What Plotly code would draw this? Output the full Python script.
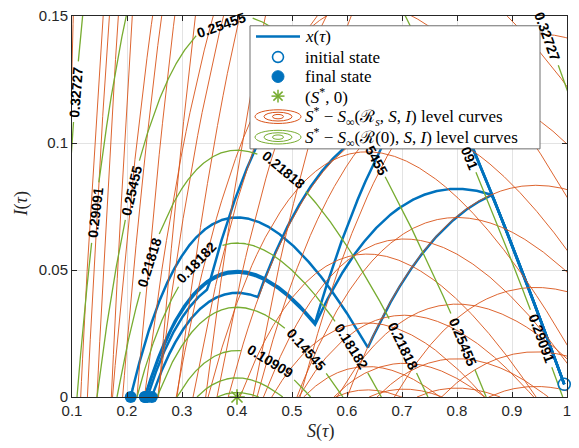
import numpy as np
import plotly.graph_objects as go

# ---- model parameters -------------------------------------------------------
R0 = 2.5                      # basic reproduction number R(0)
S_STAR = 1.0 / R0             # herd-immunity threshold S*
S_INIT, I_INIT = 0.995, 0.005 # initial state

# intervention trajectories: R during the intervention, and the values of S
# at which the intervention starts and ends
traj_Rs = [1.06, 1.06, 1.25, 1.42, 1.57]
traj_S_on = [0.864, 0.763, 0.864, 0.830, 0.771]
traj_S_off = [0.638, 0.542, 0.542, 0.438, 0.347]

# level-curve families of S* - S_inf(R_s, S, I): one list of levels per R_s
family_Rs = [1.06, 1.25, 1.42, 1.57]
family_levels = [
    [-0.45763, -0.37187, -0.28611, -0.20034, -0.11458, -0.02882, 0.05695,
     0.14271, 0.22847, 0.31424],
    [-0.32727, -0.25455, -0.18182, -0.10909, -0.03636, 0.03636, 0.10909,
     0.18182, 0.25455, 0.32727],
    [-0.24021, -0.17619, -0.11217, -0.04815, 0.01587, 0.07989, 0.14392,
     0.20794, 0.27196, 0.33598],
    [-0.17904, -0.12114, -0.06323, -0.00533, 0.05257, 0.11048, 0.16838,
     0.22629, 0.28419, 0.34210],
]

# levels of S* - S_inf(R(0), S, I)
green_levels = [0.03636, 0.07273, 0.10909, 0.14545, 0.18182, 0.21818,
                0.25455, 0.29091, 0.32727, 0.36364]

# inline labels on the R(0) level curves: (level, S position, text, y shift px)
green_labels = [
    (0.10909, 0.460, "0.10909", 0),
    (0.14545, 0.527, "0.14545", 0),
    (0.18182, 0.327, "0.18182", 0),
    (0.18182, 0.609, "0.18182", 0),
    (0.21818, 0.240, "0.21818", 0),
    (0.21818, 0.485, "0.21818", 0),
    (0.21818, 0.702, "0.21818", 0),
    (0.25455, 0.372, "0.25455", -7),
    (0.25455, 0.209, "0.25455", 0),
    (0.25455, 0.653, "5455", 0),
    (0.25455, 0.811, "0.25455", 0),
    (0.29091, 0.142, "0.29091", 0),
    (0.29091, 0.824, "091", 0),
    (0.29091, 0.953, "0.29091", 0),
    (0.32727, 0.107, "0.32727", 0),
    (0.32727, 0.965, "0.32727", 0),
]

BLUE = "#0072BD"
ORANGE = "#D95319"
GREEN = "#77AC30"
AXC = "#262626"

# ---- plot geometry (pixels) ----------------------------------------------
W, H = 579, 448
ML, MR, MT, MB = 72, 12, 7, 51
X0, X1 = 0.1, 1.0
Y0, Y1 = 0.0, 0.15
PW, PH = W - ML - MR, H - MT - MB


def to_px(S, I):
    return ML + (S - X0) / (X1 - X0) * PW, MT + (Y1 - I) / (Y1 - Y0) * PH


def paper(px, py):
    return (px - ML) / PW, (H - MB - py) / PH


# ---- SIR invariants --------------------------------------------------------
def invariant(S, I, R):
    return S + I - np.log(S) / R


def curve_I(S, C, R):
    return C - S + np.log(S) / R


def s_inf(R, C):
    lo, hi = 1e-9, 1.0 / R
    for _ in range(200):
        mid = 0.5 * (lo + hi)
        if mid - np.log(mid) / R - C > 0:
            lo = mid
        else:
            hi = mid
    return 0.5 * (lo + hi)


def level_curve(R, level, gaps=()):
    """Points of the curve S* - S_inf(R, S, I) = level inside the plot."""
    sinf = S_STAR - level
    if sinf <= 0 or sinf >= 1.0 / R:
        return [], []
    C = invariant(sinf, 0.0, R)
    t = np.linspace(0, 1, 6000)
    S = sinf + (X1 + 0.02 - sinf) * t ** 1.6
    I = curve_I(S, C, R)
    keep = (I >= -1e-4) & (I <= Y1 + 0.03)
    if gaps:
        px, py = to_px(S, I)
        for gx, gy, gr in gaps:
            keep &= (px - gx) ** 2 + (py - gy) ** 2 > gr ** 2
    xs, ys = [], []
    prev = False
    for s, i, k in zip(S, I, keep):
        if k:
            xs.append(float(s)); ys.append(float(max(i, 0.0)))
        elif prev:
            xs.append(None); ys.append(None)
        prev = k
    return xs, ys


def trajectory(Rs, s_on, s_off, n=800):
    C0 = invariant(S_INIT, I_INIT, R0)
    S1 = np.linspace(S_INIT, s_on, n)
    I1 = curve_I(S1, C0, R0)
    Cs = invariant(s_on, I1[-1], Rs)
    S2 = np.linspace(s_on, s_off, n)
    I2 = curve_I(S2, Cs, Rs)
    C3 = invariant(s_off, I2[-1], R0)
    s_end = s_inf(R0, C3)
    t = np.linspace(1, 0, 2 * n)
    S3 = s_end + (s_off - s_end) * t ** 2
    I3 = np.maximum(curve_I(S3, C3, R0), 0.0)
    return np.concatenate([S1, S2, S3]), np.concatenate([I1, I2, I3]), s_end


fig = go.Figure()

# ---- trajectories -----------------------------------------------------------
finals = []
for Rs, a, b in zip(traj_Rs, traj_S_on, traj_S_off):
    X, Y, s_end = trajectory(Rs, a, b)
    fig.add_trace(go.Scatter(x=X, y=Y, mode="lines", hoverinfo="skip",
                             line=dict(color=BLUE, width=2.5), showlegend=False))
    finals.append(s_end)

# ---- orange families -------------------------------------------------------
for R, levels in zip(family_Rs, family_levels):
    xs, ys = [], []
    for lv in levels:
        cx, cy = level_curve(R, lv)
        if cx:
            xs += cx + [None]; ys += cy + [None]
    fig.add_trace(go.Scatter(x=xs, y=ys, mode="lines", hoverinfo="skip",
                             line=dict(color=ORANGE, width=0.9), showlegend=False))

# ---- green family with inline label gaps ----------------------------------
label_geo = []
for lv, s, txt, ysh in green_labels:
    C = invariant(S_STAR - lv, 0.0, R0)
    i = curve_I(s, C, R0)
    px, py = to_px(s, i)
    slope = -1 + 1 / (R0 * s)
    ang = np.degrees(np.arctan2(-slope * PH / (Y1 - Y0), PW / (X1 - X0)))
    width = 8.0 * len(txt)
    label_geo.append((lv, s, i, px, py, ang, txt, width, ysh))

xs, ys = [], []
for lv in green_levels:
    gaps = [(g[3], g[4], g[7] / 2 + 3) for g in label_geo if g[0] == lv]
    cx, cy = level_curve(R0, lv, gaps)
    if cx:
        xs += cx + [None]; ys += cy + [None]
fig.add_trace(go.Scatter(x=xs, y=ys, mode="lines", hoverinfo="skip",
                         line=dict(color=GREEN, width=1.3), showlegend=False))

# ---- markers -----------------------------------------------------------------
fig.add_trace(go.Scatter(x=finals, y=[0.0] * len(finals), mode="markers",
                         cliponaxis=False, hoverinfo="skip", showlegend=False,
                         marker=dict(symbol="circle", size=12, color=BLUE)))
fig.add_trace(go.Scatter(x=[S_INIT], y=[I_INIT], mode="markers", cliponaxis=False,
                         hoverinfo="skip", showlegend=False,
                         marker=dict(symbol="circle-open", size=12, color=BLUE,
                                     line=dict(width=1.6, color=BLUE))))
fig.add_trace(go.Scatter(x=[S_STAR], y=[0.0], mode="markers", cliponaxis=False,
                         hoverinfo="skip", showlegend=False,
                         marker=dict(symbol="asterisk-open", size=13, color=GREEN,
                                     line=dict(width=1.6, color=GREEN))))

annotations = []
for lv, s, i, px, py, ang, txt, width, ysh in label_geo:
    annotations.append(dict(x=s, y=i, xref="x", yref="y", text=txt, showarrow=False,
                            textangle=float(ang), xanchor="center", yanchor="middle",
                            yshift=ysh,
                            font=dict(family="Liberation Sans, Arial", size=14,
                                      color="black", weight="bold")))

# ---- legend box ----------------------------------------------------------------
shapes = []
LX0, LY0, LX1, LY1 = 250, 17, 540, 143
bx0, by1 = paper(LX0, LY0)
bx1, by0 = paper(LX1, LY1)
shapes.append(dict(type="rect", xref="paper", yref="paper", x0=bx0, x1=bx1,
                   y0=by0, y1=by1, fillcolor="white", layer="above",
                   line=dict(color="#6e6e6e", width=1)))
ICX = 278
rows = [28, 49, 69, 89, 110, 131]
a0 = paper(256, rows[0]); a1 = paper(300, rows[0])
shapes.append(dict(type="line", xref="paper", yref="paper", x0=a0[0], y0=a0[1],
                   x1=a1[0], y1=a1[1], layer="above", line=dict(color=BLUE, width=2.5)))


def ellipse(cx, cy, w, h, color, lw=1.0, fill=None):
    p0 = paper(cx - w / 2, cy + h / 2)
    p1 = paper(cx + w / 2, cy - h / 2)
    d = dict(type="circle", xref="paper", yref="paper", x0=p0[0], y0=p0[1],
             x1=p1[0], y1=p1[1], layer="above", line=dict(color=color, width=lw))
    if fill:
        d["fillcolor"] = fill
    return d


shapes.append(ellipse(ICX, rows[1], 11, 11, BLUE, 1.6))
shapes.append(ellipse(ICX, rows[2], 12, 12, BLUE, 1.0, BLUE))
for dx, dy in [(0, 6.5), (6.5, 0), (4.6, 4.6), (4.6, -4.6)]:
    p0 = paper(ICX - dx, rows[3] - dy); p1 = paper(ICX + dx, rows[3] + dy)
    shapes.append(dict(type="line", xref="paper", yref="paper", x0=p0[0], y0=p0[1],
                       x1=p1[0], y1=p1[1], layer="above",
                       line=dict(color=GREEN, width=1.5)))
for color, r in [(ORANGE, rows[4]), (GREEN, rows[5])]:
    for w, h in [(46, 14), (28, 9), (11, 4.5)]:
        shapes.append(ellipse(ICX, r, w, h, color))

legend_text = [
    "<i>x</i>(<i>τ</i>)",
    "initial state",
    "final state",
    "(<i>S</i><sup>*</sup>, 0)",
    "<i>S</i><sup>*</sup> − <i>S</i><sub>∞</sub>(ℛ<sub><i>s</i></sub>, <i>S</i>, <i>I</i>) level curves",
    "<i>S</i><sup>*</sup> − <i>S</i><sub>∞</sub>(ℛ(0), <i>S</i>, <i>I</i>) level curves",
]
for txt, r in zip(legend_text, rows):
    px_, py_ = paper(303, r)
    annotations.append(dict(x=px_, y=py_, xref="paper", yref="paper", text=txt,
                            showarrow=False, xanchor="left", yanchor="middle",
                            font=dict(family="Liberation Serif, Times New Roman",
                                      size=17, color="black")))

# axis titles
tx = paper(320, 432)
annotations.append(dict(x=tx[0], y=tx[1], xref="paper", yref="paper",
                        xanchor="center", yanchor="middle",
                        text="<i>S</i>(<i>τ</i>)", showarrow=False,
                        font=dict(family="Liberation Serif", size=18, color=AXC)))
ty = paper(22, 200)
annotations.append(dict(x=ty[0], y=ty[1], xref="paper", yref="paper",
                        xanchor="center", yanchor="middle",
                        text="<i>I</i>(<i>τ</i>)", showarrow=False, textangle=-90,
                        font=dict(family="Liberation Serif", size=18, color=AXC)))

xt = [0.1, 0.2, 0.3, 0.4, 0.5, 0.6, 0.7, 0.8, 0.9, 1.0]
xt_text = ["0.1", "0.2", "0.3", "0.4", "0.5", "0.6", "0.7", "0.8", "0.9", "1"]
yt = [0.0, 0.05, 0.1, 0.15]
yt_text = ["0", "0.05", "0.1", "0.15"]

axis_common = dict(showgrid=True, gridcolor="#e3e3e3", gridwidth=1, zeroline=False,
                   showline=True, linecolor=AXC, linewidth=1, mirror="ticks",
                   ticks="inside", ticklen=5, tickcolor=AXC,
                   ticklabeloverflow="allow",
                   tickfont=dict(family="Liberation Sans, Arial", size=15, color=AXC))

fig.update_layout(
    width=W, height=H,
    margin=dict(l=ML, r=MR, t=MT, b=MB),
    paper_bgcolor="white", plot_bgcolor="white",
    showlegend=False,
    xaxis=dict(range=[X0, X1], tickvals=xt, ticktext=xt_text, **axis_common),
    yaxis=dict(range=[Y0, Y1], tickvals=yt, ticktext=yt_text, **axis_common),
    shapes=shapes,
    annotations=annotations,
)

fig.write_html("out.html")
